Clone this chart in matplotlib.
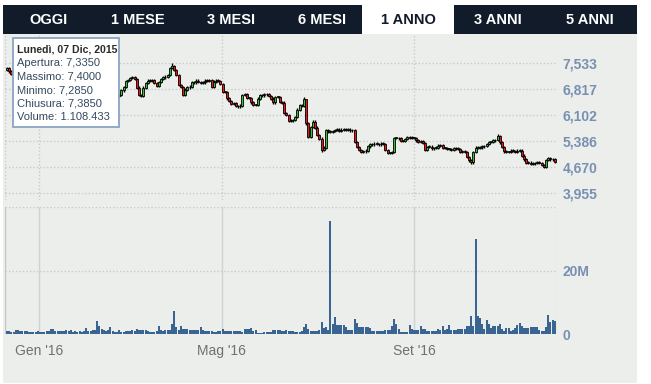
import numpy as np
import matplotlib.pyplot as plt
from matplotlib.patches import Rectangle

# una candela per seduta, dal 07 Dic 2015 a fine Nov 2016
chiusure = [
    7.39, 7.30, 7.24, 7.18, 7.22, 7.15, 7.08, 7.12, 7.05, 6.98,
    7.02, 6.95, 6.90, 6.96, 7.04, 7.10, 7.02, 6.94, 6.85, 6.78,
    6.70, 6.62, 6.55, 6.48, 6.55, 6.62, 6.70, 6.64, 6.58, 6.50,
    6.45, 6.52, 6.60, 6.68, 6.74, 6.80, 6.86, 6.92, 6.88, 6.82,
    6.76, 6.70, 6.74, 6.80, 6.76, 6.70, 6.64, 6.60, 6.56, 6.60,
    6.62, 6.65, 6.78, 6.87, 7.04, 7.07, 7.12, 7.15, 7.09, 6.85,
    6.65, 6.62, 6.85, 6.98, 7.05, 7.04, 7.06, 6.98, 6.90, 7.01,
    7.09, 7.14, 7.16, 7.20, 7.40, 7.45, 7.34, 7.20, 6.93, 6.87,
    6.65, 6.80, 6.86, 6.88, 7.00, 7.00, 7.05, 7.01, 6.99, 7.00,
    7.05, 7.04, 7.06, 6.88, 7.02, 7.05, 7.04, 6.95, 6.73, 6.73,
    6.56, 6.48, 6.40, 6.43, 6.35, 6.34, 6.36, 6.65, 6.68, 6.57,
    6.57, 6.45, 6.38, 6.38, 6.55, 6.65, 6.64, 6.68, 6.67, 6.62,
    6.55, 6.45, 6.60, 6.60, 6.46, 6.44, 6.16, 6.10, 5.93, 5.95,
    5.96, 6.05, 6.25, 6.38, 6.36, 6.55, 5.87, 5.50, 5.77, 5.92,
    5.75, 5.55, 5.45, 5.14, 5.20, 5.69, 5.65, 5.64, 5.66, 5.69,
    5.70, 5.67, 5.70, 5.72, 5.69, 5.70, 5.68, 5.69, 5.36, 5.22,
    5.14, 5.09, 5.10, 5.12, 5.24, 5.30, 5.29, 5.31, 5.30, 5.29,
    5.31, 5.30, 5.14, 5.06, 5.06, 5.08, 5.47, 5.47, 5.46, 5.39,
    5.39, 5.44, 5.50, 5.48, 5.47, 5.47, 5.40, 5.37, 5.38, 5.33,
    5.15, 5.22, 5.23, 5.18, 5.19, 5.20, 5.26, 5.27, 5.19, 5.19,
    5.16, 5.17, 5.15, 5.18, 5.18, 5.17, 5.09, 5.10, 5.08, 4.95,
    4.85, 4.80, 5.08, 5.20, 5.20, 5.21, 5.24, 5.25, 5.30, 5.36,
    5.36, 5.40, 5.41, 5.52, 5.35, 5.22, 5.10, 5.08, 5.08, 5.12,
    5.11, 5.08, 5.12, 5.12, 4.98, 4.88, 4.78, 4.79, 4.76, 4.77,
    4.78, 4.79, 4.78, 4.72, 4.68, 4.86, 4.92, 4.88, 4.89, 4.81,
]
apertura_0 = 7.335
massimi_extra = {75: 7.53, 136: 6.15, 223: 5.58}
minimi_extra = {143: 5.08, 211: 4.75}

# volumi in milioni
volumi = [
    1.1, 0.9, 0.6, 0.6, 1.4, 1.3, 0.8, 0.8, 0.9, 0.9,
    0.6, 0.5, 0.5, 0.6, 0.8, 0.6, 0.5, 0.6, 1.0, 1.0,
    1.5, 1.5, 1.0, 0.8, 0.8, 0.8, 0.8, 1.4, 0.8, 1.2,
    0.6, 0.8, 0.6, 0.8, 0.7, 0.8, 1.9, 1.0, 0.8, 1.4,
    1.3, 4.1, 2.4, 1.5, 1.2, 1.0, 1.2, 2.2, 0.9, 0.6,
    0.6, 1.4, 0.6, 0.6, 0.8, 0.8, 1.0, 1.4, 1.1, 1.6,
    1.2, 1.2, 1.2, 1.2, 0.8, 0.6, 0.6, 0.6, 1.0, 2.4,
    1.2, 0.8, 1.2, 1.2, 1.2, 3.3, 7.2, 2.2, 1.2, 2.4,
    1.5, 1.5, 1.5, 1.2, 1.2, 1.2, 1.2, 1.2, 2.1, 1.2,
    0.8, 0.8, 0.9, 1.0, 0.6, 0.6, 1.0, 1.0, 1.6, 0.9,
    1.0, 0.9, 1.0, 1.0, 1.0, 1.0, 1.0, 0.6, 1.5, 1.5,
    1.5, 1.8, 1.0, 1.2, 0.4, 0.4, 0.4, 0.6, 0.6, 0.6,
    0.6, 1.2, 1.2, 1.2, 1.2, 0.9, 0.9, 1.2, 0.9, 0.9,
    0.9, 0.7, 0.7, 0.7, 0.8, 2.2, 3.2, 1.7, 1.1, 1.1,
    1.1, 1.1, 1.2, 3.7, 1.8, 2.3, 1.2, 35.7, 3.3, 5.3,
    2.8, 2.8, 2.8, 2.8, 2.2, 1.2, 1.2, 1.2, 4.9, 3.5,
    2.3, 2.3, 2.3, 2.3, 2.3, 2.0, 1.0, 1.0, 1.0, 1.0,
    1.0, 1.0, 1.2, 1.2, 1.2, 2.4, 4.7, 3.3, 1.5, 0.7,
    0.7, 0.7, 0.7, 2.8, 1.7, 1.2, 1.2, 1.2, 2.4, 1.6,
    1.6, 1.0, 1.0, 1.0, 1.0, 1.0, 1.7, 1.2, 2.4, 1.4,
    1.7, 3.0, 1.4, 1.4, 1.4, 1.6, 1.7, 1.7, 1.7, 2.4,
    2.4, 5.8, 2.6, 30.2, 5.8, 5.1, 3.3, 1.6, 4.5, 3.3,
    1.9, 2.5, 2.5, 2.5, 3.3, 1.6, 1.0, 2.0, 2.0, 1.0,
    1.2, 1.9, 2.8, 3.6, 2.6, 1.9, 1.9, 1.9, 2.2, 2.2,
    2.2, 2.2, 1.2, 1.0, 1.0, 2.2, 6.0, 3.7, 4.5, 4.0,
]

livelli = [3.955, 4.670, 5.386, 6.102, 6.817, 7.533]
mesi = ["Gen '16", "Mag '16", "Set '16"]
pos_mesi = [14.5, 97.7, 185]
tabs = ['OGGI', '1 MESE', '3 MESI', '6 MESI', '1 ANNO', '3 ANNI', '5 ANNI']
tab_attiva = '1 ANNO'
tooltip = ['Lunedì, 07 Dic, 2015', 'Apertura: 7,3350', 'Massimo: 7,4000',
           'Minimo: 7,2850', 'Chiusura: 7,3850', 'Volume: 1.108.433']

W, H = 651, 384
fig = plt.figure(figsize=(W / 100, H / 100), dpi=100)
fig.patch.set_facecolor('white')

def fx(px):
    return px / W

def fy(py):
    return 1 - py / H

# sfondo grigio e barra delle schede
fig.add_artist(Rectangle((fx(3), fy(383)), fx(634), 349 / H, transform=fig.transFigure,
                         facecolor='#eceeeb', edgecolor='none', zorder=-5))
fig.add_artist(Rectangle((fx(3), fy(34)), fx(634), 29 / H, transform=fig.transFigure,
                         facecolor='#111b29', edgecolor='none', zorder=-4))
centri_tab = [49, 138, 231, 322, 408, 498, 590]
for t, cx in zip(tabs, centri_tab):
    col = 'white'
    if t == tab_attiva:
        fig.add_artist(Rectangle((fx(362), fy(34)), fx(92), 29 / H, transform=fig.transFigure,
                                 facecolor='white', edgecolor='none', zorder=-3))
        col = '#111b29'
    fig.text(fx(cx), fy(19.5), t, color=col, fontsize=10.5, fontweight='bold',
             family=['Liberation Sans Narrow', 'Liberation Sans'], ha='center', va='center')

ax = fig.add_axes([fx(5), fy(200), fx(552), 166 / H])
axv = fig.add_axes([fx(5), fy(334), fx(552), 127 / H])

x = np.arange(len(chiusure))
c = np.array(chiusure)
o = np.concatenate([[apertura_0], c[:-1]])
hi = np.maximum(o, c) + 0.035
lo = np.minimum(o, c) - 0.035
for k, v in massimi_extra.items():
    hi[k] = v
for k, v in minimi_extra.items():
    lo[k] = v
colori = ['#35c035' if cc >= oo else '#f0141a' for oo, cc in zip(o, c)]
altezze = np.where(np.abs(c - o) < 0.02, 0.02, np.abs(c - o))

ax.vlines(x, lo, hi, color='black', linewidth=1.0, zorder=3)
ax.bar(x, altezze, bottom=np.minimum(o, c), width=0.9, color=colori,
       edgecolor='black', linewidth=0.6, zorder=4)

axv.bar(x, volumi, width=0.95, color='#3a6592', edgecolor='none', zorder=3)

griglia = '#c9cbc9'
for a in (ax, axv):
    a.set_facecolor('none')
    a.set_xlim(-0.9, 250)
    for s in a.spines.values():
        s.set_visible(False)
    a.tick_params(length=0)

ax.set_ylim(3.761, 8.33)
ax.set_yticks(livelli)
ax.set_yticklabels([f'{v:.3f}'.replace('.', ',') for v in livelli])
ax.yaxis.tick_right()
ax.set_xticks([])
for v in livelli:
    ax.axhline(v, color=griglia, linewidth=1, linestyle=(0, (1, 1.5)), zorder=1)
for p in pos_mesi:
    ax.axvline(p, color=griglia, linewidth=1, linestyle=(0, (1, 1.5)), zorder=1)
ax.axvline(-0.9, color=griglia, linewidth=1, linestyle=(0, (1, 1.5)), zorder=1)

axv.set_ylim(0, 40.3)
axv.set_yticks([0, 20])
axv.set_yticklabels(['0', '20M'])
axv.yaxis.tick_right()
axv.set_xticks(pos_mesi)
axv.set_xticklabels(mesi)
for v in (20, 40.3):
    axv.axhline(v, color=griglia, linewidth=1, linestyle=(0, (1, 1.5)), zorder=1)
axv.axvline(250, color=griglia, linewidth=1, linestyle=(0, (1, 1.5)), zorder=1)
axv.axvline(-0.9, color='#c4c6c4', linewidth=1, zorder=1)
for p in pos_mesi:
    axv.axvline(p, color='#d0d2d0', linewidth=1, zorder=1)

for a in (ax, axv):
    for lab in a.get_yticklabels():
        lab.set_fontfamily('Liberation Sans')
        lab.set_fontweight('bold')
        lab.set_fontsize(10)
        lab.set_color('#7890b2')
    a.tick_params(axis='y', pad=4)
for lab in axv.get_xticklabels():
    lab.set_fontfamily('Liberation Sans')
    lab.set_fontsize(10)
    lab.set_color('#707070')
axv.tick_params(axis='x', pad=7)

# riquadro informativo
fig.add_artist(Rectangle((fx(13), fy(126.5)), fx(106), 88.5 / H, transform=fig.transFigure,
                         facecolor='white', edgecolor='#8aa4c4', linewidth=1.3, zorder=10))
for n, riga in enumerate(tooltip):
    fig.text(fx(17), fy(49 + n * 13.7), riga, fontsize=7.6 if n == 0 else 8.0,
             family='Liberation Sans', fontweight='bold' if n == 0 else 'normal',
             color='#2b2b2b' if n == 0 else '#34495e', va='center', zorder=11)

fig.savefig('out.png', dpi=100)
